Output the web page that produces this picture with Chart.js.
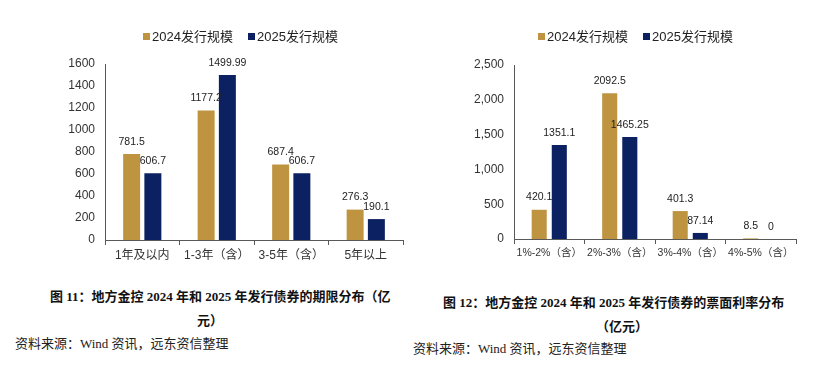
<!DOCTYPE html>
<html>
<head>
<meta charset="utf-8">
<script src="https://cdn.jsdelivr.net/npm/chart.js@4.4.0/dist/chart.umd.min.js"></script>
<style>
  body { margin: 0; background: #fff; }
  #wrap { position: relative; width: 817px; height: 387px; overflow: hidden; }
  canvas { position: absolute; top: 0; }
  .lg { position: absolute; top: 28px; font: 13px "Liberation Sans", "Noto Sans CJK SC", sans-serif; color: #222; line-height: 17px; white-space: nowrap; }
  .lg i { display: inline-block; width: 7px; height: 7px; margin-right: 2px; vertical-align: 1px; }
  .cap { position: absolute; font: bold 13px "Liberation Serif", "Noto Sans CJK SC", serif; color: #111; line-height: 16px; white-space: nowrap; }
  .src { position: absolute; font: 13px "Liberation Serif", "Noto Sans CJK SC", serif; color: #222; line-height: 16px; white-space: nowrap; }
</style>
</head>
<body>
<div id="wrap">
  <canvas id="chartTerm" width="410" height="270" style="left:0"></canvas>
  <canvas id="chartRate" width="407" height="270" style="left:410px"></canvas>

  <div class="cap" style="left:50px;top:289px">图 11：地方金控 2024 年和 2025 年发行债券的期限分布（亿</div>
  <div class="cap" style="left:197px;top:313px">元）</div>
  <div class="src" style="left:15px;top:336px">资料来源：Wind 资讯，远东资信整理</div>

  <div class="cap" style="left:443px;top:295px">图 12：地方金控 2024 年和 2025 年发行债券的票面利率分布</div>
  <div class="cap" style="left:596px;top:319px">（亿元）</div>
  <div class="src" style="left:413px;top:341px">资料来源：Wind 资讯，远东资信整理</div>
</div>

<script>
// series
const seriesNames = ['2024发行规模', '2025发行规模'];
const seriesColors = ['#BF9440', '#0B2162'];

// 期限分布
const termLabels = ['1年及以内', '1-3年（含）', '3-5年（含）', '5年以上'];
const term2024 = [781.5, 1177.2, 687.4, 276.3];
const term2025 = [606.7, 1499.99, 606.7, 190.1];
const termTicks = [0, 200, 400, 600, 800, 1000, 1200, 1400, 1600];

// 票面利率分布
const rateLabels = ['1%-2%（含）', '2%-3%（含）', '3%-4%（含）', '4%-5%（含）'];
const rate2024 = [420.1, 2092.5, 401.3, 8.5];
const rate2025 = [1351.1, 1465.25, 87.14, 0];
const rateTicks = [0, 500, 1000, 1500, 2000, 2500];

const axisColor = '#595959';

// value labels above bars
const valueLabels = {
    id: 'valueLabels',
    afterDatasetsDraw(chart) {
        const ctx = chart.ctx;
        ctx.save();
        ctx.font = '10.5px "Liberation Sans", sans-serif';
        ctx.fillStyle = '#222';
        ctx.textAlign = 'center';
        ctx.textBaseline = 'bottom';
        chart.data.datasets.forEach((ds, i) => {
            chart.getDatasetMeta(i).data.forEach((bar, j) => {
                ctx.fillText(String(ds.data[j]), bar.x, bar.y - 7);
            });
        });
        ctx.restore();
    }
};

function makeChart(id, labels, a, b, ticks, opt) {
    const ctx = document.getElementById(id).getContext('2d');
    return new Chart(ctx, {
        type: 'bar',
        data: {
            labels: labels,
            datasets: [
                { label: seriesNames[0], data: a, backgroundColor: seriesColors[0] },
                { label: seriesNames[1], data: b, backgroundColor: seriesColors[1] }
            ]
        },
        options: {
            responsive: false,
            animation: false,
            layout: { padding: { left: 0, right: opt.right, top: opt.top, bottom: 0 } },
            datasets: { bar: { categoryPercentage: 0.57, barPercentage: opt.barPct } },
            plugins: { legend: { display: false }, tooltip: { enabled: false } },
            scales: {
                x: {
                    afterFit: s => { s.height = 270 - opt.bottom; },
                    grid: { display: true, offset: true, drawOnChartArea: false, tickLength: 5, color: axisColor },
                    border: { display: true, color: axisColor },
                    ticks: {
                        padding: 3,
                        color: '#333',
                        autoSkip: false,
                        minRotation: 0,
                        maxRotation: 0,
                        font: { size: opt.xFont, family: '"Liberation Sans", "Noto Sans CJK SC"' }
                    }
                },
                y: {
                    min: 0,
                    max: ticks[ticks.length - 1],
                    afterFit: s => { s.width = opt.axisX; },
                    afterBuildTicks: s => { s.ticks = ticks.map(v => ({ value: v })); },
                    grid: { display: false, drawTicks: false },
                    border: { display: true, color: axisColor },
                    ticks: {
                        padding: 10,
                        color: '#333',
                        font: { size: 12, family: '"Liberation Sans"' },
                        callback: v => opt.comma ? v.toLocaleString('en-US') : String(v)
                    }
                }
            }
        },
        plugins: [valueLabels]
    });
}

makeChart('chartTerm', termLabels, term2024, term2025, termTicks,
    { axisX: 105, right: 7, top: 64, bottom: 240, barPct: 0.8, comma: false, xFont: 12 });
makeChart('chartRate', rateLabels, rate2024, rate2025, rateTicks,
    { axisX: 104, right: 21, top: 65, bottom: 239, barPct: 0.75, comma: true, xFont: 10.5 });

// legends
function makeLegend(positions) {
    const wrap = document.getElementById('wrap');
    seriesNames.forEach((name, i) => {
        const d = document.createElement('div');
        d.className = 'lg';
        d.style.left = positions[i] + 'px';
        d.innerHTML = '<i style="background:' + seriesColors[i] + '"></i>' + name;
        wrap.appendChild(d);
    });
}
makeLegend([143, 248]);
makeLegend([538, 643]);
</script>
</body>
</html>
